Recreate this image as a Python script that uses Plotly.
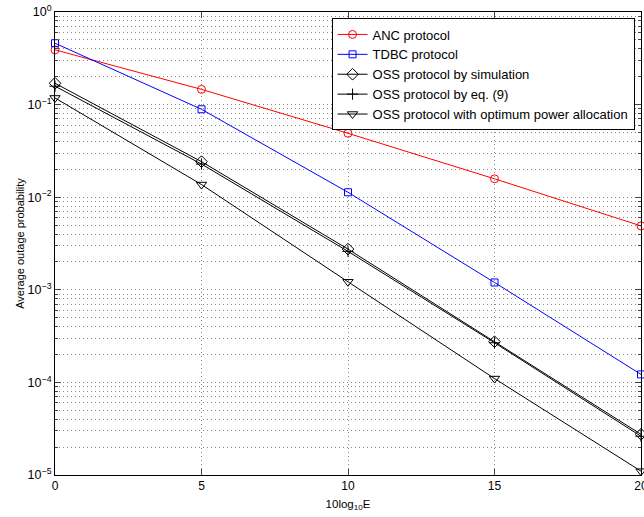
import plotly.graph_objects as go

snr_db = [0, 5, 10, 15, 20]
anc = [0.39, 0.146, 0.049, 0.0158, 0.0049]
tdbc = [0.46, 0.089, 0.0113, 0.0012, 1.22e-4]
oss_sim = [0.17, 0.0242, 0.00275, 2.75e-4, 2.75e-5]
oss_eq9 = [0.158, 0.0228, 0.0026, 2.68e-4, 2.62e-5]
oss_opt = [0.118, 0.0137, 0.00122, 1.1e-4, 1.1e-5]

series_names = ["ANC protocol", "TDBC protocol", "OSS protocol by simulation",
                "OSS protocol by eq. (9)", "OSS protocol with optimum power allocation"]

y_tickvals = [1e-5, 1e-4, 1e-3, 1e-2, 1e-1, 1e0]
y_ticktext = ["10<sup>−5</sup>", "10<sup>−4</sup>", "10<sup>−3</sup>",
              "10<sup>−2</sup>", "10<sup>−1</sup>", "10<sup>0</sup>"]
x_tickvals = [0, 5, 10, 15, 20]

fig = go.Figure()
styles = [
    (anc, "#ff0000", "circle-open", 8),
    (tdbc, "#0000ff", "square-open", 7),
    (oss_sim, "#000000", "diamond-open", 9),
    (oss_eq9, "#000000", "cross-thin-open", 8),
    (oss_opt, "#000000", "triangle-down-open", 9),
]
for (vals, col, sym, sz), name in zip(styles, series_names):
    fig.add_trace(go.Scatter(
        x=snr_db, y=vals, name=name, mode="lines+markers",
        line=dict(color=col, width=1),
        marker=dict(symbol=sym, size=sz, color=col, line=dict(color=col, width=1)),
        cliponaxis=False,
    ))

grid = dict(griddash="1px,3px", gridcolor="#888", gridwidth=1)

fig.update_layout(
    width=644, height=517,
    margin=dict(l=55, r=3, t=12, b=42, autoexpand=False),
    paper_bgcolor="white", plot_bgcolor="white",
    font=dict(family="Liberation Sans, Arial, Helvetica, sans-serif", size=12, color="black"),
    showlegend=True,
    legend=dict(
        x=0.989, y=0.986, xanchor="right", yanchor="top",
        bgcolor="white", bordercolor="black", borderwidth=1,
        font=dict(size=13), tracegroupgap=0,
    ),
    xaxis=dict(
        range=[0, 20], tickvals=x_tickvals, ticks="inside", ticklen=6,
        ticklabeloverflow="allow",
        showline=True, linecolor="black", linewidth=1, mirror="ticks",
        showgrid=True, zeroline=False, tickfont=dict(size=12),
        title=dict(text="10log<sub>10</sub>E", standoff=7, font=dict(size=11.5)),
        **grid,
    ),
    yaxis=dict(
        type="log", range=[-5, 0], tickvals=y_tickvals, ticktext=y_ticktext,
        ticks="inside", ticklen=6, tickfont=dict(size=12.5),
        showline=True, linecolor="black", linewidth=1, mirror="ticks",
        showgrid=True, zeroline=False,
        minor=dict(dtick="D1", ticks="inside", ticklen=3, showgrid=True,
                   griddash="1px,3px", gridcolor="#888", gridwidth=1),
        title=dict(text="Average outage probability", standoff=0, font=dict(size=11)),
        **grid,
    ),
)

fig.write_html("out.html")
